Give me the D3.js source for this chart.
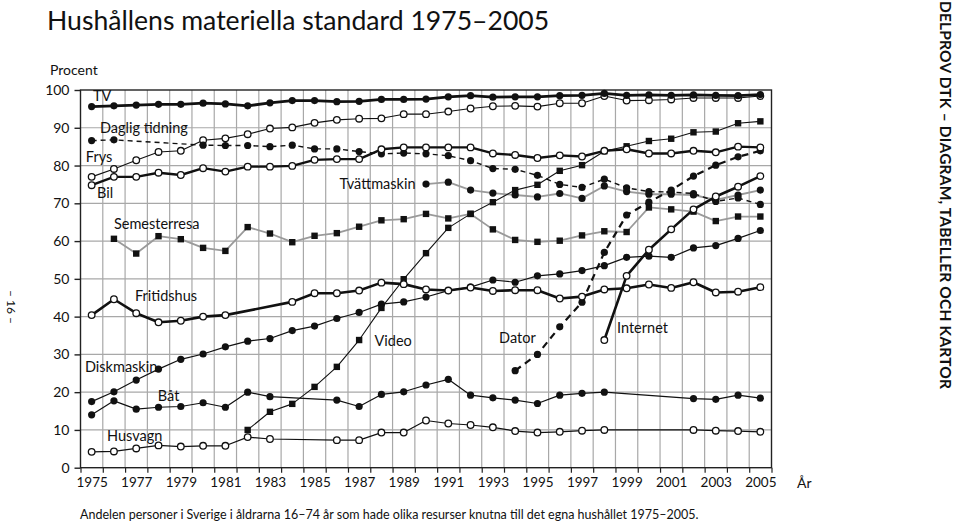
<!DOCTYPE html>
<html><head><meta charset="utf-8">
<script src="https://cdn.jsdelivr.net/npm/d3@7"></script>
<style>
html,body{margin:0;padding:0;background:#fff;}
svg{display:block;font-family:Lato,"Open Sans",sans-serif;}
</style></head>
<body><svg id="c" width="959" height="523"></svg>
<script>
// ---- data ----
const yearTicks = [1975,1977,1979,1981,1983,1985,1987,1989,1991,1993,1995,1997,1999,2001,2003,2005];
const valueTicks = [0,10,20,30,40,50,60,70,80,90,100];
const allYears = d3.range(1975, 2006);

const tvValues = [95.6,95.8,96.0,96.2,96.2,96.5,96.3,95.8,96.6,97.2,97.2,96.9,97.0,97.5,97.5,97.6,98.2,98.5,98.1,98.2,98.2,98.5,98.6,99.1,98.6,98.7,98.6,98.7,98.6,98.5,98.8];
const frysValues = [77.0,79.1,81.4,83.6,83.9,86.7,87.2,88.3,89.8,90.1,91.3,92.1,92.4,92.5,93.6,93.6,94.3,95.1,95.7,95.8,95.6,96.5,96.5,98.4,97.2,97.3,97.5,97.9,97.9,97.9,98.4];
const bilValues = [74.8,77.0,77.0,78.1,77.5,79.3,78.4,79.7,79.7,79.9,81.5,81.7,81.7,84.3,84.8,84.8,84.8,84.8,83.2,82.8,82.0,82.7,82.4,83.9,84.3,83.2,83.2,83.9,83.5,85.0,84.8];
const diskmaskinValues = [17.5,20.1,23.2,26.1,28.7,30.1,32.0,33.5,34.2,36.3,37.5,39.5,41.1,43.3,43.9,45.2,46.9,47.8,49.7,49.1,50.8,51.3,52.2,53.5,55.7,56.0,55.7,58.2,58.8,60.7,62.8];

const dagligYears = [1975,1976,1980,1981,1982,1983,1984,1985,1986,1987,1988,1989,1990,1991,1992,1993,1994,1995,1996,1997,1998,1999,2000,2001,2002,2003,2004,2005];
const dagligValues = [86.6,86.8,85.4,85.3,85.3,85.0,85.4,84.4,84.4,83.7,83.1,83.3,83.1,82.6,81.3,79.2,79.0,77.4,75.0,74.2,76.4,74.1,73.1,73.0,72.6,70.5,71.4,69.7];

const semesterYears = d3.range(1976, 2006);
const semesterValues = [60.6,56.7,61.3,60.5,58.2,57.4,63.7,62.0,59.7,61.4,62.1,63.8,65.5,65.8,67.2,66.0,67.2,63.1,60.3,59.8,60.1,61.5,62.6,62.4,68.9,68.4,67.8,65.3,66.5,66.5];

const tvattYears = d3.range(1990, 2006);
const tvattValues = [75.1,75.6,73.5,72.7,72.2,71.7,72.6,71.3,74.6,73.1,72.4,72.4,72.2,70.9,72.2,73.5];

const videoYears = d3.range(1982, 2006);
const videoValues = [10.0,14.8,16.9,21.4,26.7,33.8,42.3,49.9,56.8,63.5,67.2,70.3,73.5,74.9,78.6,80.1,83.8,85.1,86.5,87.1,88.8,89.0,91.2,91.7];

const fritidsYears = [1975,1976,1977,1978,1979,1980,1981,1984,1985,1986,1987,1988,1989,1990,1991,1992,1993,1994,1995,1996,1997,1998,1999,2000,2001,2002,2003,2004,2005];
const fritidsValues = [40.4,44.6,40.9,38.5,38.9,40.0,40.4,43.9,46.2,46.2,46.9,49.0,48.6,47.2,46.9,47.7,46.8,47.0,47.0,44.8,45.3,47.2,47.5,48.5,47.6,49.1,46.4,46.6,47.8];

const batYears = [1975,1976,1977,1978,1979,1980,1981,1982,1983,1986,1987,1988,1989,1990,1991,1992,1993,1994,1995,1996,1997,1998,2002,2003,2004,2005];
const batValues = [14.0,17.7,15.5,16.0,16.2,17.2,16.0,20.0,18.8,17.9,16.2,19.4,20.1,21.9,23.4,19.2,18.5,17.9,17.0,19.2,19.7,20.0,18.3,18.1,19.2,18.4];

const husvagnYears = batYears;
const husvagnValues = [4.2,4.3,5.1,5.9,5.6,5.8,5.8,8.1,7.6,7.3,7.3,9.3,9.3,12.5,11.7,11.3,10.7,9.7,9.3,9.5,9.8,10.0,10.0,9.8,9.7,9.5];

const datorYears = d3.range(1994, 2006);
const datorValues = [25.7,30.0,37.3,43.8,57.0,66.9,70.3,73.5,77.2,80.1,82.3,83.9];

const internetYears = d3.range(1998, 2006);
const internetValues = [33.8,50.8,57.7,63.1,68.4,71.8,74.4,77.2];

// label anchors in data units [year, value]
const labelNames = ["TV","Daglig tidning","Frys","Bil","Semesterresa","Tvättmaskin","Fritidshus","Diskmaskin","Båt","Husvagn","Video","Dator","Internet"];
const labelYears = [1975.06,1975.37,1974.74,1975.24,1976.0,1986.12,1976.94,1974.7,1977.97,1975.69,1987.69,1993.28,1998.57];
const labelValues = [98.4,89.9,82.3,72.8,64.5,75.1,45.5,26.7,19.0,8.4,33.5,34.3,37.0];

// ---- drawing ----
const svg = d3.select("#c");
const x = d3.scaleLinear().domain([1974.5, 2005.5]).range([80.5, 771.5]);
const y = d3.scaleLinear().domain([0, 100]).range([467.7, 90]);

const zip = (ys, vs) => ys.map((yr, i) => [yr, vs[i]]);

// grid
const g = svg.append("g");
g.selectAll(".vg").data(d3.range(1975.5, 2005.5, 1)).join("line")
  .attr("x1", d => x(d)).attr("x2", d => x(d)).attr("y1", y(0)).attr("y2", y(100))
  .attr("stroke", "#a8a8a8").attr("stroke-width", 1.2);
g.selectAll(".hg").data(valueTicks.filter(v => v > 0 && v < 100)).join("line")
  .attr("x1", x(1974.5)).attr("x2", x(2005.5)).attr("y1", d => y(d)).attr("y2", d => y(d))
  .attr("stroke", "#a8a8a8").attr("stroke-width", 1.2);

// frame
svg.append("rect").attr("x", x(1974.5)).attr("y", y(100))
  .attr("width", x(2005.5) - x(1974.5)).attr("height", y(0) - y(100))
  .attr("fill", "none").attr("stroke", "#222").attr("stroke-width", 1.4);

// axes
const yAxis = svg.append("g").attr("transform", `translate(${x(1974.5)},0)`)
  .call(d3.axisLeft(y).tickValues(valueTicks).tickSize(6).tickPadding(5));
yAxis.select(".domain").remove();
yAxis.selectAll("line").attr("stroke", "#222").attr("stroke-width", 1.4);
yAxis.selectAll("text").attr("font-size", 14).attr("fill", "#111").attr("font-family", "Lato");

const xTickAxis = svg.append("g").attr("transform", `translate(0,${y(0)})`)
  .call(d3.axisBottom(x).tickValues(d3.range(1974.5, 2006, 1)).tickSize(5).tickFormat(""));
xTickAxis.select(".domain").remove();
xTickAxis.selectAll("line").attr("stroke", "#222").attr("stroke-width", 1.2);

const xAxis = svg.append("g").attr("transform", `translate(0,${y(0)})`)
  .call(d3.axisBottom(x).tickValues(yearTicks).tickSize(0).tickPadding(10).tickFormat(d3.format("d")));
xAxis.select(".domain").remove();
xAxis.selectAll("text").attr("font-size", 13.5).attr("fill", "#111").attr("font-family", "Lato");

svg.append("text").attr("x", 797).attr("y", 488).attr("font-size", 14).attr("fill", "#111").text("År");
svg.append("text").attr("x", 50).attr("y", 75).attr("font-size", 14).attr("fill", "#111").text("Procent");

// series
const series = [
  {name:"Semesterresa", pts: zip(semesterYears, semesterValues), color:"#9a9a9a", w:1.8, dash:null, marker:"square"},
  {name:"Tvättmaskin", pts: zip(tvattYears, tvattValues), color:"#9a9a9a", w:1.8, dash:null, marker:"filled"},
  {name:"Husvagn", pts: zip(husvagnYears, husvagnValues), color:"#111", w:1.2, dash:null, marker:"open"},
  {name:"Båt", pts: zip(batYears, batValues), color:"#111", w:1.2, dash:null, marker:"filled"},
  {name:"Diskmaskin", pts: zip(allYears, diskmaskinValues), color:"#111", w:1.2, dash:null, marker:"filled"},
  {name:"Video", pts: zip(videoYears, videoValues), color:"#111", w:1.1, dash:null, marker:"square"},
  {name:"Frys", pts: zip(allYears, frysValues), color:"#111", w:1.1, dash:null, marker:"open"},
  {name:"Daglig tidning", pts: zip(dagligYears, dagligValues), color:"#111", w:1.4, dash:"5,4", marker:"filled"},
  {name:"Dator", pts: zip(datorYears, datorValues), color:"#111", w:2.2, dash:"7,5", marker:"filled"},
  {name:"Fritidshus", pts: zip(fritidsYears, fritidsValues), color:"#111", w:2.6, dash:null, marker:"open"},
  {name:"Bil", pts: zip(allYears, bilValues), color:"#111", w:2.4, dash:null, marker:"open"},
  {name:"Internet", pts: zip(internetYears, internetValues), color:"#111", w:2.6, dash:null, marker:"open"},
  {name:"TV", pts: zip(allYears, tvValues), color:"#111", w:2.8, dash:null, marker:"filled"}
];

const line = d3.line().x(d => x(d[0])).y(d => y(d[1]));
series.forEach(s => {
  svg.append("path").datum(s.pts).attr("d", line)
    .attr("fill", "none").attr("stroke", s.color).attr("stroke-width", s.w)
    .attr("stroke-dasharray", s.dash).attr("stroke-linejoin", "round");
});
series.forEach(s => {
  const mg = svg.append("g");
  if (s.marker === "square") {
    mg.selectAll("rect").data(s.pts).join("rect")
      .attr("x", d => x(d[0]) - 3.2).attr("y", d => y(d[1]) - 3.2)
      .attr("width", 6.4).attr("height", 6.4).attr("fill", "#111");
  } else if (s.marker === "filled") {
    mg.selectAll("circle").data(s.pts).join("circle")
      .attr("cx", d => x(d[0])).attr("cy", d => y(d[1])).attr("r", 3.6).attr("fill", "#111");
  } else {
    mg.selectAll("circle").data(s.pts).join("circle")
      .attr("cx", d => x(d[0])).attr("cy", d => y(d[1])).attr("r", 3.3)
      .attr("fill", "#fff").attr("stroke", "#111").attr("stroke-width", 1.3);
  }
});

// labels
svg.append("g").selectAll("text").data(labelNames).join("text")
  .attr("x", (d, i) => x(labelYears[i])).attr("y", (d, i) => y(labelValues[i]))
  .attr("dy", "0.35em").attr("font-size", 14.5).attr("fill", "#111").text(d => d);

// title and surrounding texts
svg.append("text").attr("x", 47).attr("y", 30).attr("font-size", 26.6).attr("fill", "#111")
  .text("Hushållens materiella standard 1975–2005");
svg.append("text").attr("x", 80).attr("y", 519).attr("font-size", 12.5).attr("fill", "#111")
  .text("Andelen personer i Sverige i åldrarna 16–74 år som hade olika resurser knutna till det egna hushållet 1975–2005.");
svg.append("text").attr("transform", "translate(944,1) rotate(90)")
  .attr("font-size", 15.5).attr("font-weight", "bold").attr("fill", "#111")
  .attr("dominant-baseline", "middle")
  .attr("textLength", 388).attr("lengthAdjust", "spacing")
  .text("DELPROV DTK – DIAGRAM, TABELLER OCH KARTOR");
svg.append("text").attr("transform", "translate(10,307) rotate(90)")
  .attr("font-size", 12).attr("fill", "#111").attr("text-anchor", "middle")
  .attr("dominant-baseline", "middle")
  .text("– 16 –");
</script>
</body></html>
